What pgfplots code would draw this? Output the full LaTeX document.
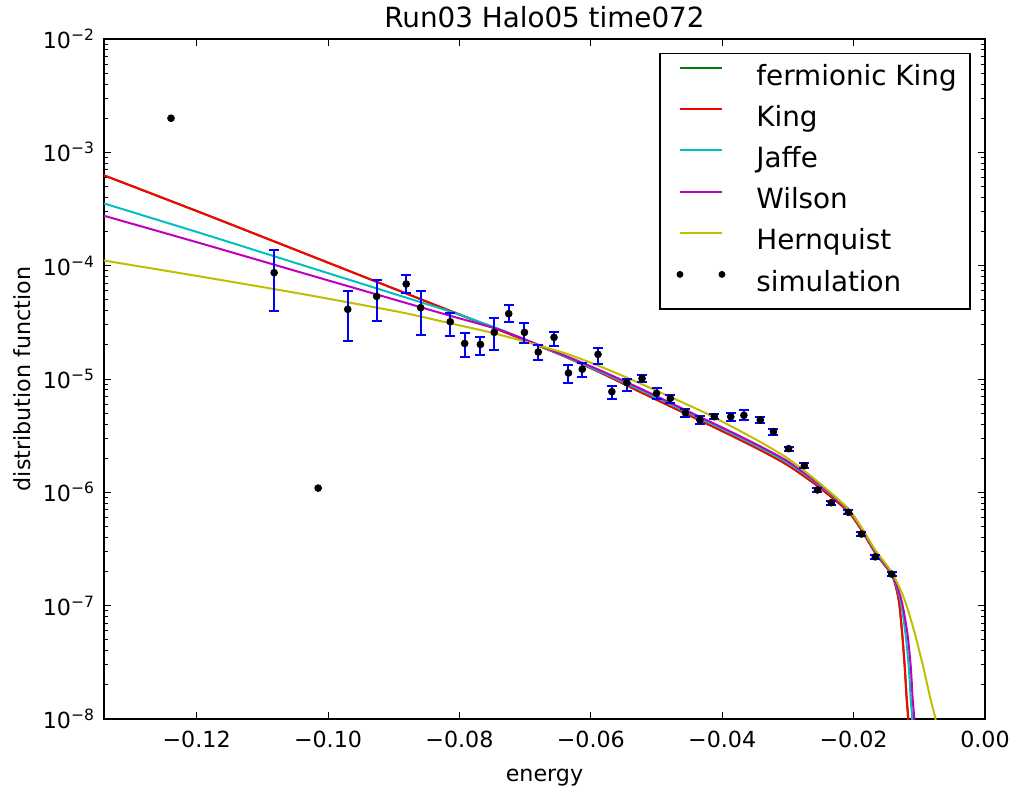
\documentclass[border=0pt]{standalone}
\usepackage{fontspec}
\setmainfont{DejaVu Sans}
\usepackage{pgfplots}
\usepackage{pgfplotstable}
\pgfplotsset{compat=1.18}

\definecolor{mplgreen}{rgb}{0,0.5,0}
\definecolor{mplred}{rgb}{1,0,0}
\definecolor{mplcyan}{rgb}{0,0.75,0.75}
\definecolor{mplmagenta}{rgb}{0.75,0,0.75}
\definecolor{mplyellow}{rgb}{0.75,0.75,0}

\pgfplotstableread{
x y
-0.1345 6.4e-4
-0.1193 2.93e-4
-0.1041 1.32e-4
-0.0889 5.93e-5
-0.0813 3.97e-5
-0.0736 2.66e-5
-0.0645 1.63e-5
-0.0584 1.13e-5
-0.0523 7.60e-6
-0.0432 4.26e-6
-0.0386 3.17e-6
-0.0340 2.33e-6
-0.0299 1.72e-6
-0.0255 1.14e-6
-0.0209 6.84e-7
-0.0188 4.65e-7
-0.0167 2.92e-7
-0.0141 1.83e-7
-0.01313 1.12e-7
-0.01261 5.7e-8
-0.01222 2.9e-8
-0.01191 1.47e-8
-0.01170 1.0e-8
-0.0115 3e-9
}\kingdata

\pgfplotstableread{
x y
-0.1345 3.6e-4
-0.1193 1.93e-4
-0.1041 1.02e-4
-0.0889 5.40e-5
-0.0813 3.92e-5
-0.0736 2.71e-5
-0.0645 1.64e-5
-0.0584 1.15e-5
-0.0523 7.91e-6
-0.0432 4.44e-6
-0.0386 3.31e-6
-0.0340 2.43e-6
-0.0299 1.80e-6
-0.0255 1.19e-6
-0.0209 7.13e-7
-0.0188 4.80e-7
-0.0167 2.97e-7
-0.0141 1.86e-7
-0.01287 1.12e-7
-0.01211 5.7e-8
-0.01161 2.9e-8
-0.01130 1.47e-8
-0.01109 1.0e-8
-0.0109 3e-9
}\jaffedata

\pgfplotstableread{
x y
-0.1345 2.8e-4
-0.1193 1.57e-4
-0.1041 8.70e-5
-0.0889 4.83e-5
-0.0813 3.60e-5
-0.0736 2.68e-5
-0.0645 1.66e-5
-0.0584 1.18e-5
-0.0523 8.16e-6
-0.0432 4.57e-6
-0.0386 3.41e-6
-0.0340 2.51e-6
-0.0299 1.86e-6
-0.0255 1.21e-6
-0.0209 7.20e-7
-0.0188 4.84e-7
-0.0167 3.01e-7
-0.0141 1.88e-7
-0.01272 1.12e-7
-0.01181 5.7e-8
-0.01130 2.9e-8
-0.01100 1.47e-8
-0.01078 1.0e-8
-0.0106 3e-9
}\wilsondata

\pgfplotstableread{
x y
-0.1345 1.12e-4
-0.1193 8.0e-5
-0.1041 5.65e-5
-0.0889 3.88e-5
-0.0813 3.09e-5
-0.0747 2.53e-5
-0.0645 1.73e-5
-0.0584 1.28e-5
-0.0523 9.04e-6
-0.0432 5.22e-6
-0.0386 3.82e-6
-0.0340 2.74e-6
-0.0299 1.97e-6
-0.0255 1.25e-6
-0.0209 7.27e-7
-0.0188 4.89e-7
-0.0167 3.10e-7
-0.0141 1.94e-7
-0.01222 1.12e-7
-0.01069 5.7e-8
-0.00941 2.9e-8
-0.00826 1.47e-8
-0.00754 1.0e-8
-0.0072 6e-9
}\hernquistdata

\pgfplotstableread{
x y ep em
-0.1082 8.67e-5 5.03e-5 4.67e-5
-0.0970 4.12e-5 1.85e-5 1.94e-5
-0.0926 5.36e-5 2.11e-5 2.09e-5
-0.0881 6.89e-5 1.33e-5 1.11e-5
-0.0859 4.26e-5 1.71e-5 1.81e-5
-0.0814 3.20e-5 6.0e-6 8.0e-6
-0.0792 2.06e-5 4.7e-6 4.8e-6
-0.0768 2.02e-5 3.4e-6 3.8e-6
-0.0747 2.58e-5 8.5e-6 7.9e-6
-0.0725 3.77e-5 7.3e-6 5.7e-6
-0.0701 2.58e-5 5.6e-6 5.2e-6
-0.0680 1.73e-5 2.7e-6 2.6e-6
-0.0656 2.33e-5 2.5e-6 3.6e-6
-0.0634 1.13e-5 2.0e-6 2.0e-6
-0.0613 1.22e-5 1.7e-6 1.8e-6
-0.0589 1.65e-5 2.4e-6 3.0e-6
-0.0568 7.73e-6 9.4e-7 1.03e-6
-0.0545 9.27e-6 8.3e-7 1.44e-6
-0.0522 1.01e-5 7.0e-7 6.3e-7
-0.0500 7.47e-6 8.1e-7 7.7e-7
-0.0479 6.75e-6 4.7e-7 6.5e-7
-0.0456 5.04e-6 3.6e-7 3.9e-7
-0.0434 4.35e-6 3.6e-7 3.5e-7
-0.0412 4.65e-6 2.5e-7 2.5e-7
-0.0387 4.65e-6 3.5e-7 4.0e-7
-0.0367 4.78e-6 5.4e-7 4.3e-7
-0.0342 4.35e-6 2.4e-7 2.4e-7
-0.0322 3.43e-6 2.2e-7 2.0e-7
-0.0299 2.43e-6 1.0e-7 1.0e-7
-0.0275 1.72e-6 8e-8 8e-8
-0.0255 1.05e-6 4e-8 4e-8
-0.0234 8.1e-7 3e-8 3e-8
-0.0208 6.67e-7 2.5e-8 2.5e-8
-0.0188 4.29e-7 1.5e-8 1.5e-8
-0.0167 2.70e-7 1e-8 1e-8
-0.0142 1.90e-7 7e-9 7e-9
}\simdata

\pgfplotstableread{
x y
-0.1239 2.0e-3
-0.1015 1.09e-6
}\simout

\begin{document}
\begin{tikzpicture}
\begin{axis}[
  name=ax,
  scale only axis,
  width=440.5pt, height=340pt,
  xmin=-0.1341, xmax=0,
  ymode=log, ymin=1e-8, ymax=1e-2,
  xtick={-0.12,-0.10,-0.08,-0.06,-0.04,-0.02,0},
  xticklabels={−0.12,−0.10,−0.08,−0.06,−0.04,−0.02,0.00},
  scaled x ticks=false,
  ytick={1e-8,1e-7,1e-6,1e-5,1e-4,1e-3,1e-2},
  yticklabels={10\textsuperscript{−8},10\textsuperscript{−7},10\textsuperscript{−6},10\textsuperscript{−5},10\textsuperscript{−4},10\textsuperscript{−3},10\textsuperscript{−2}},
  minor ytick={2e-8,3e-8,4e-8,5e-8,6e-8,7e-8,8e-8,9e-8,
               2e-7,3e-7,4e-7,5e-7,6e-7,7e-7,8e-7,9e-7,
               2e-6,3e-6,4e-6,5e-6,6e-6,7e-6,8e-6,9e-6,
               2e-5,3e-5,4e-5,5e-5,6e-5,7e-5,8e-5,9e-5,
               2e-4,3e-4,4e-4,5e-4,6e-4,7e-4,8e-4,9e-4,
               2e-3,3e-3,4e-3,5e-3,6e-3,7e-3,8e-3,9e-3},
  tick label style={font=\fontsize{11.1}{13}\selectfont},
  xticklabel style={anchor=base, yshift=-14pt},
  yticklabel style={anchor=east, xshift=-1pt},
  major tick length=3.5pt, minor tick length=2pt,
  tick align=inside,
  every tick/.style={black, line width=0.5pt},
  axis line style={line width=0.8pt},
  title={Run03 Halo05 time072},
  title style={font=\fontsize{13.9}{16}\selectfont, at={(axis description cs:0.5,1)}, anchor=base, yshift=0pt},
  xlabel={energy},
  xlabel style={font=\fontsize{11.1}{13}\selectfont, at={(axis description cs:0.5,0)}, anchor=base, yshift=-31pt},
  ylabel={distribution function},
  ylabel style={font=\fontsize{11.1}{13}\selectfont, at={(axis description cs:0,0.5)}, anchor=base, xshift=0pt, yshift=36.5pt},
  legend image code/.code={\path (0pt,5pt); \draw[#1, line width=1pt] (3pt,5pt) -- (24pt,5pt);},
  legend style={at={(axis description cs:1,1)}, anchor=north east, xshift=-7.25pt, yshift=-6.85pt,
    draw=black, line width=0.8pt, font=\fontsize{13.9}{16}\selectfont,
    inner xsep=6.5pt, inner ysep=5.75pt, row sep=7.6pt, column sep=15.5pt,
    nodes={inner sep=0pt, text height=10pt, text depth=3pt}},
  legend cell align=left,
]
\addplot[mplgreen, line width=1pt, smooth, tension=0.4] table[x=x,y=y] {\kingdata};
\addplot[mplred, line width=1pt, smooth, tension=0.4] table[x=x,y=y] {\kingdata};
\addplot[mplcyan, line width=1pt, smooth, tension=0.4] table[x=x,y=y] {\jaffedata};
\addplot[mplmagenta, line width=1pt, smooth, tension=0.4] table[x=x,y=y] {\wilsondata};
\addplot[mplyellow, line width=1pt, smooth, tension=0.4] table[x=x,y=y] {\hernquistdata};
\addplot[only marks, mark=*, mark size=1.7pt, mark options={black, fill=black},
  legend image code/.code={\path (0pt,5pt); \fill[black] (3pt,5pt) circle (1.3pt); \fill[black] (24pt,5pt) circle (1.3pt);},
  error bars/.cd, y dir=both, y explicit,
  error bar style={blue, line width=1pt},
  error mark options={blue, line width=1pt, mark size=2.5pt, rotate=90}]
  table[x=x, y=y, y error plus=ep, y error minus=em] {\simdata};
\addplot[only marks, mark=*, mark size=1.7pt, mark options={black, fill=black}, forget plot]
  table[x=x,y=y] {\simout};
\legend{fermionic King, King, Jaffe, Wilson, Hernquist, simulation}
\end{axis}
\pgfresetboundingbox
\path[use as bounding box] ([xshift=-52pt,yshift=-35pt]ax.south west) rectangle ([xshift=14.5pt,yshift=19.5pt]ax.north east);
\end{tikzpicture}
\end{document}
